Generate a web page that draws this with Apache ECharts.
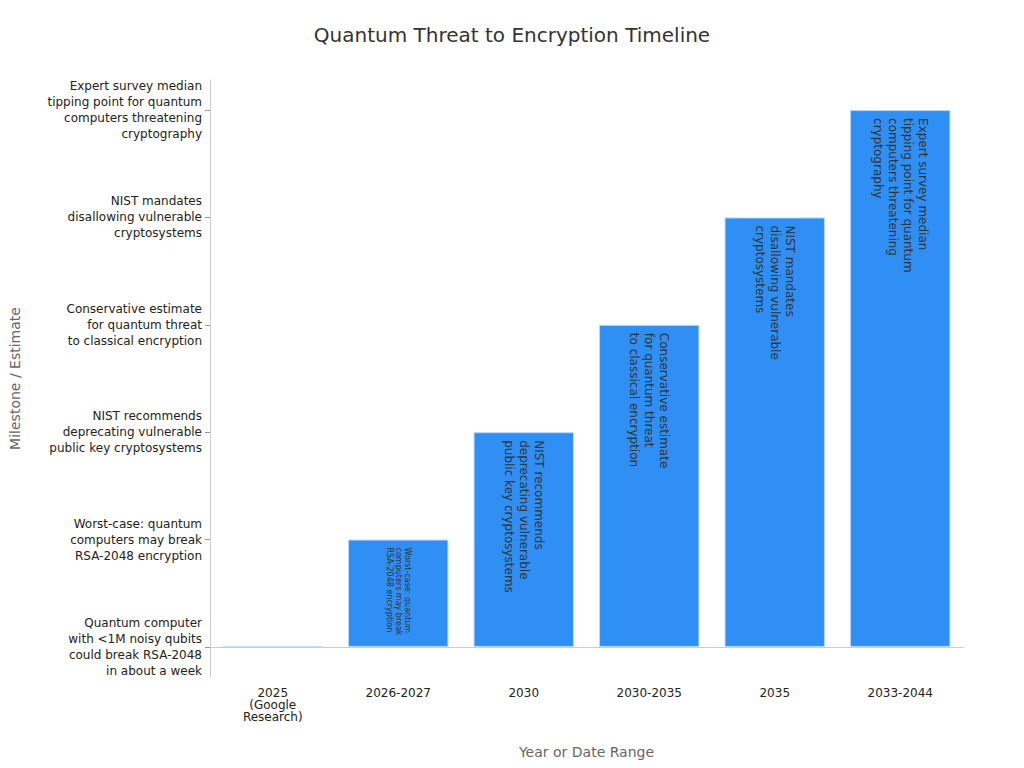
<!DOCTYPE html>
<html><head><meta charset="utf-8">
<script src="https://cdn.jsdelivr.net/npm/echarts@6/dist/echarts.min.js"></script>
<style>html,body{margin:0;padding:0;background:#fff}#c{width:1024px;height:768px}</style>
</head><body><div id="c"></div>
<script>
const periods = ['2025\n(Google\nResearch)', '2026-2027', '2030', '2030-2035', '2035', '2033-2044']
const milestones = [
  'Quantum computer\nwith <1M noisy qubits\ncould break RSA-2048\nin about a week',
  'Worst-case: quantum\ncomputers may break\nRSA-2048 encryption',
  'NIST recommends\ndeprecating vulnerable\npublic key cryptosystems',
  'Conservative estimate\nfor quantum threat\nto classical encryption',
  'NIST mandates\ndisallowing vulnerable\ncryptosystems',
  'Expert survey median\ntipping point for quantum\ncomputers threatening\ncryptography'
]
const levels = [0, 1, 2, 3, 4, 5]

const chart = echarts.init(document.getElementById('c'), null, { renderer: 'svg' })
chart.setOption({
  title: {
    text: 'Quantum Threat to Encryption Timeline',
    left: 'center', top: 20,
    textStyle: { fontSize: 20, fontWeight: 'normal', color: '#333', fontFamily: 'DejaVu Sans' }
  },
  textStyle: { fontFamily: 'DejaVu Sans' },
  grid: { left: 202, right: 61, top: 80, bottom: 91 },
  xAxis: {
    type: 'category',
    data: periods,
    name: 'Year or Date Range',
    nameLocation: 'middle',
    nameGap: 68,
    nameTextStyle: { fontSize: 14, color: '#666' },
    axisLine: { lineStyle: { color: '#ccc' } },
    axisTick: { alignWithLabel: true, lineStyle: { color: '#999' } },
    axisLabel: { color: '#222', fontSize: 12, margin: 10 }
  },
  yAxis: {
    type: 'value',
    min: -0.28, max: 5.28,
    name: 'Milestone / Estimate',
    nameLocation: 'middle',
    nameGap: 188,
    nameTextStyle: { fontSize: 14, color: '#666' },
    splitLine: { show: false },
    axisLine: { show: true, lineStyle: { color: '#ccc' } },
    axisTick: { show: true, customValues: levels, lineStyle: { color: '#999' } },
    axisLabel: {
      customValues: levels,
      color: '#222', fontSize: 12, lineHeight: 16,
      formatter: v => milestones[Math.round(v)]
    }
  },
  series: [{
    type: 'bar',
    barWidth: '80%',
    data: levels.map((v, i) => ({
      value: v,
      label: i === 1 ? { fontSize: 8, lineHeight: 9 } : {}
    })),
    itemStyle: { color: '#2f8ff5', borderColor: '#b8d8fb', borderWidth: 1 },
    label: {
      show: true,
      position: 'insideTop',
      distance: 8,
      rotate: -90,
      align: 'left',
      verticalAlign: 'middle',
      fontSize: 12,
      lineHeight: 15,
      color: '#333',
      formatter: p => p.value > 0 ? milestones[p.value] : ''
    }
  }]
})
</script></body></html>
